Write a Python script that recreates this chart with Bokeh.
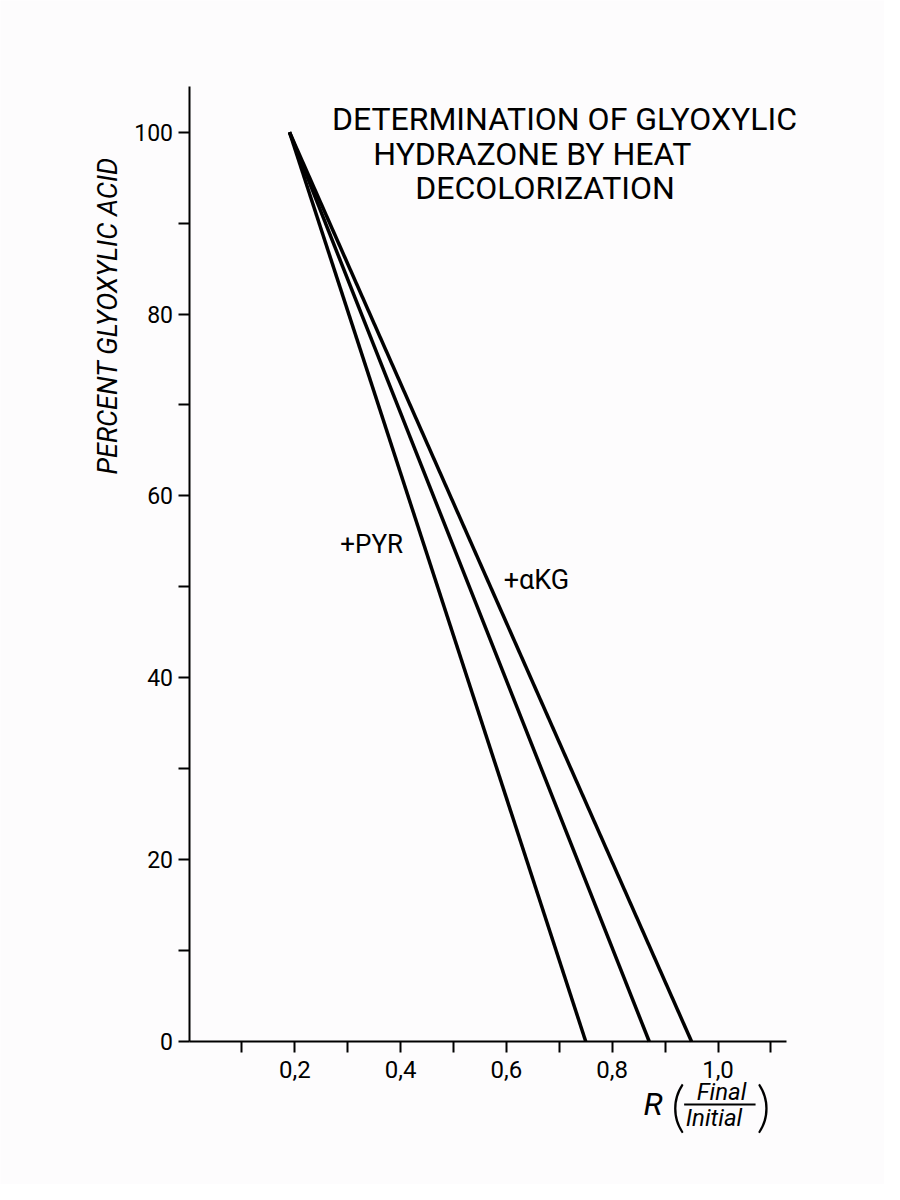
import math
from bokeh.plotting import figure
from bokeh.models import (FixedTicker, CustomJSTickFormatter, Label, Arrow, Range1d)
from bokeh.embed import file_html
from bokeh.resources import INLINE

# ---- data ----
series_names = ["+PYR", "middle", "+αKG"]
x_start = [0.19, 0.19, 0.19]
y_start = [100, 100, 100]
x_end = [0.75, 0.87, 0.95]
y_end = [0, 0, 0]
x_ticks = [0.1, 0.2, 0.3, 0.4, 0.5, 0.6, 0.7, 0.8, 0.9, 1.0, 1.1]
y_ticks = [0, 10, 20, 30, 40, 50, 60, 70, 80, 90, 100]
x_axis_extent = [0, 1.13]
y_axis_extent = [0, 105]
title_lines = ["DETERMINATION OF GLYOXYLIC", "HYDRAZONE BY HEAT", "DECOLORIZATION"]
y_label = "PERCENT GLYOXYLIC ACID"

BG = "#fdfcfd"
FONT = "Roboto"

W, H = 884, 1184
X0_PX, XSCALE = 188.5, 529.0
Y0_PX, YSCALE = 1041.0, 9.093

p = figure(width=W, height=H, output_backend="svg", toolbar_location=None,
           x_range=Range1d(-X0_PX / XSCALE, (W - X0_PX) / XSCALE),
           y_range=Range1d((Y0_PX - H) / YSCALE, Y0_PX / YSCALE),
           min_border=0,
           background_fill_color=BG, border_fill_color=BG)
p.outline_line_color = None
p.grid.visible = False

for xs, ys, xe, ye in zip(x_start, y_start, x_end, y_end):
    p.line([xs, xe], [ys, ye], line_width=3.5, line_color="black")

# axes
for ax in (p.xaxis[0], p.yaxis[0]):
    ax.fixed_location = 0
    ax.axis_line_width = 2
    ax.axis_line_color = "black"
    ax.major_tick_line_width = 2
    ax.major_tick_line_color = "black"
    ax.major_tick_out = 11
    ax.major_tick_in = 0
    ax.minor_tick_line_color = None
    ax.major_label_text_font = FONT
    ax.major_label_text_color = "black"

p.xaxis.bounds = tuple(x_axis_extent)
p.yaxis.bounds = tuple(y_axis_extent)

p.xaxis.ticker = FixedTicker(ticks=x_ticks)
p.xaxis.formatter = CustomJSTickFormatter(code="""
const v = Math.round(tick*10);
if (v % 2 == 0 && v > 0) { return (v/10).toFixed(1).replace('.', ','); }
return '';
""")
p.xaxis.major_label_text_font_size = "24px"
p.xaxis.major_label_standoff = 8

p.yaxis.ticker = FixedTicker(ticks=y_ticks)
p.yaxis.formatter = CustomJSTickFormatter(code="""
const v = Math.round(tick);
if (v % 20 == 0) { return String(v); }
return '';
""")
p.yaxis.major_label_text_font_size = "23px"
p.yaxis.major_label_standoff = 5

def lab(x, y, text, size, align="left", italic=False, font=FONT, angle=0.0):
    p.add_layout(Label(x=x, y=y, text=text, text_font=font, text_font_size=size,
                       text_font_style="italic" if italic else "normal", angle=angle,
                       text_align=align, text_baseline="middle", text_color="black"))

# title
title_pos = [(0.7098, 101.45), (0.649, 97.6), (0.673, 93.86)]
for t, (tx, ty) in zip(title_lines, title_pos):
    lab(tx, ty, t, "32px", align="center")

# y axis label
lab(-0.154, 79.8, y_label, "27px", align="center", italic=True, angle=math.pi / 2)

# series annotations
lab(0.286, 54.66, "+PYR", "26px")
lab(0.595, 50.70, "+αKG", "27px")

# x axis label: R (Final / Initial)
lab(0.859, -6.87, "R", "32px", italic=True)
lab(0.925, -6.98, "(", "56px", align="center", font="Lato Light")
lab(1.086, -6.98, ")", "56px", align="center", font="Lato Light")
lab(1.0066, -5.55, "Final", "24px", align="center", italic=True)
lab(0.9924, -8.41, "Initial", "24px", align="center", italic=True)
p.add_layout(Arrow(start=None, end=None, x_start=0.936, y_start=-6.93, x_end=1.071, y_end=-6.93,
                   line_width=2, line_color="black"))

open("out.html", "w").write(file_html(p, INLINE))
